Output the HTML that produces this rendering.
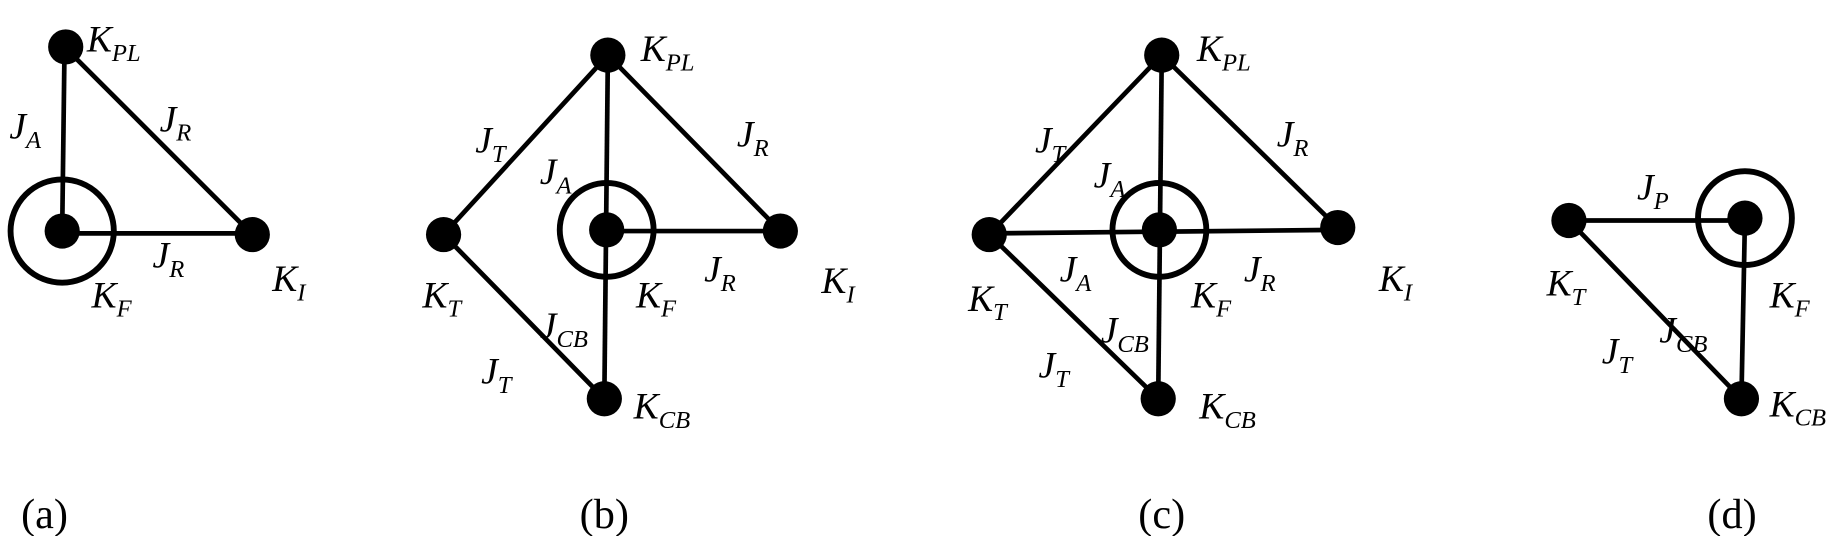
<!DOCTYPE html>
<html><head><meta charset="utf-8"><style>
html,body{margin:0;padding:0;background:#fff;}
svg{display:block}
text{font-family:"Liberation Serif",serif;fill:#000;}
.k{font-style:italic;font-size:32px;}
.s{font-style:italic;font-size:21px;}
.c{font-size:36px;}
</style></head><body>
<svg width="1840" height="536" viewBox="0 0 1568 457" preserveAspectRatio="none" xmlns="http://www.w3.org/2000/svg">
<g stroke="#000" stroke-width="4" fill="none">
<line x1="55" y1="40" x2="53" y2="197"/><line x1="55" y1="40" x2="215" y2="200"/><line x1="53" y1="199" x2="215" y2="199"/>
<circle cx="53" cy="197" r="44" stroke-width="5"/>
<line x1="518" y1="47" x2="378" y2="200"/><line x1="518" y1="47" x2="665" y2="197"/><line x1="518" y1="47" x2="515" y2="340"/>
<line x1="517" y1="197" x2="665" y2="197"/><line x1="378" y1="200" x2="515" y2="340"/>
<circle cx="517" cy="196" r="40" stroke-width="5"/>
<line x1="990" y1="47" x2="843" y2="200"/><line x1="990" y1="47" x2="1140" y2="194"/><line x1="990" y1="47" x2="987" y2="340"/>
<line x1="843" y1="199" x2="1140" y2="196"/><line x1="843" y1="200" x2="987" y2="340"/>
<circle cx="988" cy="196" r="40" stroke-width="5"/>
<line x1="1337" y1="188" x2="1487" y2="188"/><line x1="1487" y1="186" x2="1484" y2="340"/><line x1="1337" y1="188" x2="1484" y2="340"/>
<circle cx="1487" cy="186" r="40" stroke-width="5"/>
</g>
<g fill="#000">
<circle cx="56" cy="40" r="15"/><circle cx="53" cy="197" r="15"/><circle cx="215" cy="200" r="15"/>
<circle cx="518" cy="47" r="15"/><circle cx="378" cy="200" r="15"/><circle cx="517" cy="196" r="15"/><circle cx="665" cy="197" r="15"/><circle cx="515" cy="340" r="15"/>
<circle cx="990" cy="47" r="15"/><circle cx="843" cy="200" r="15"/><circle cx="988" cy="196" r="15"/><circle cx="1140" cy="194" r="15"/><circle cx="987" cy="340" r="15"/>
<circle cx="1337" cy="188" r="15"/><circle cx="1487" cy="186" r="15"/><circle cx="1484" cy="340" r="15"/>
</g>
<g>
<text x="74" y="44" class="k">K<tspan class="s" dy="8">PL</tspan></text>
<text x="8" y="118" class="k">J<tspan class="s" dy="8">A</tspan></text>
<text x="136" y="112" class="k">J<tspan class="s" dy="8">R</tspan></text>
<text x="130" y="228" class="k">J<tspan class="s" dy="8">R</tspan></text>
<text x="78" y="262" class="k">K<tspan class="s" dy="8">F</tspan></text>
<text x="232" y="248" class="k">K<tspan class="s" dy="8">I</tspan></text>
<text x="18" y="450" class="c">(a)</text>
<text x="546" y="52" class="k">K<tspan class="s" dy="8">PL</tspan></text>
<text x="405" y="130" class="k">J<tspan class="s" dy="8">T</tspan></text>
<text x="460" y="157" class="k">J<tspan class="s" dy="8">A</tspan></text>
<text x="628" y="125" class="k">J<tspan class="s" dy="8">R</tspan></text>
<text x="600" y="240" class="k">J<tspan class="s" dy="8">R</tspan></text>
<text x="542" y="262" class="k">K<tspan class="s" dy="8">F</tspan></text>
<text x="700" y="250" class="k">K<tspan class="s" dy="8">I</tspan></text>
<text x="360" y="262" class="k">K<tspan class="s" dy="8">T</tspan></text>
<text x="460" y="288" class="k">J<tspan class="s" dy="8">CB</tspan></text>
<text x="410" y="327" class="k">J<tspan class="s" dy="8">T</tspan></text>
<text x="540" y="357" class="k">K<tspan class="s" dy="8">CB</tspan></text>
<text x="494" y="450" class="c">(b)</text>
<text x="1020" y="52" class="k">K<tspan class="s" dy="8">PL</tspan></text>
<text x="882" y="130" class="k">J<tspan class="s" dy="8">T</tspan></text>
<text x="1088" y="125" class="k">J<tspan class="s" dy="8">R</tspan></text>
<text x="932" y="160" class="k">J<tspan class="s" dy="8">A</tspan></text>
<text x="825" y="265" class="k">K<tspan class="s" dy="8">T</tspan></text>
<text x="903" y="240" class="k">J<tspan class="s" dy="8">A</tspan></text>
<text x="1015" y="262" class="k">K<tspan class="s" dy="8">F</tspan></text>
<text x="1060" y="240" class="k">J<tspan class="s" dy="8">R</tspan></text>
<text x="1175" y="248" class="k">K<tspan class="s" dy="8">I</tspan></text>
<text x="938" y="292" class="k">J<tspan class="s" dy="8">CB</tspan></text>
<text x="885" y="322" class="k">J<tspan class="s" dy="8">T</tspan></text>
<text x="1022" y="357" class="k">K<tspan class="s" dy="8">CB</tspan></text>
<text x="970" y="450" class="c">(c)</text>
<text x="1395" y="170" class="k">J<tspan class="s" dy="8">P</tspan></text>
<text x="1318" y="252" class="k">K<tspan class="s" dy="8">T</tspan></text>
<text x="1508" y="262" class="k">K<tspan class="s" dy="8">F</tspan></text>
<text x="1414" y="292" class="k">J<tspan class="s" dy="8">CB</tspan></text>
<text x="1365" y="310" class="k">J<tspan class="s" dy="8">T</tspan></text>
<text x="1508" y="355" class="k">K<tspan class="s" dy="8">CB</tspan></text>
<text x="1455" y="450" class="c">(d)</text>
</g>
</svg>
</body></html>
